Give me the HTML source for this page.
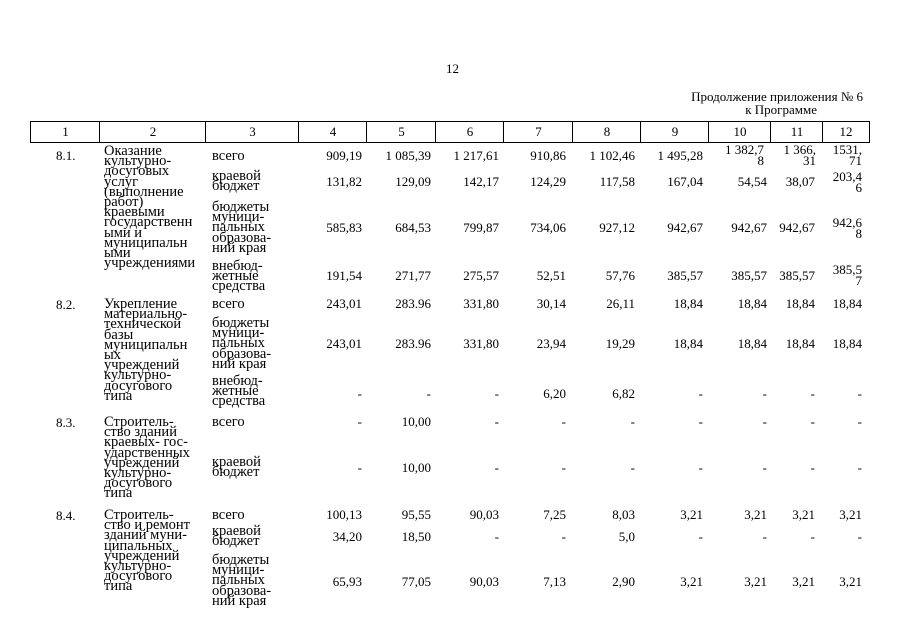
<!DOCTYPE html>
<html><head><meta charset="utf-8"><style>
body{margin:0;width:905px;height:640px;background:#fff;position:relative;overflow:hidden;font-family:"Liberation Serif",serif;color:#000}
.a{position:absolute;white-space:nowrap}
.n{position:absolute;font-size:13px;line-height:14px;text-align:right;width:100px;white-space:nowrap}
.t{position:absolute;font-size:14.5px;line-height:10.2px;white-space:nowrap}
.s{position:absolute;font-size:13px;line-height:10.5px;text-align:right;width:60px;white-space:nowrap}
.h{position:absolute;top:121px;height:20px;border-top:1px solid #000;border-bottom:1px solid #000;border-left:1px solid #000;font-size:13px;line-height:20px;text-align:center}
</style></head><body>
<div class="a" style="left:446px;top:61px;font-size:13px">12</div>
<div class="a" style="right:42px;top:89px;font-size:13px;text-align:right">Продолжение приложения № 6</div>
<div class="a" style="right:88px;top:102px;font-size:13px">к Программе</div>

<div class="h" style="left:30px;width:69px">1</div>
<div class="h" style="left:99px;width:106px">2</div>
<div class="h" style="left:205px;width:93px">3</div>
<div class="h" style="left:298px;width:68px">4</div>
<div class="h" style="left:366px;width:69px">5</div>
<div class="h" style="left:435px;width:68px">6</div>
<div class="h" style="left:503px;width:69px">7</div>
<div class="h" style="left:572px;width:68px">8</div>
<div class="h" style="left:640px;width:68px">9</div>
<div class="h" style="left:708px;width:62px">10</div>
<div class="h" style="left:770px;width:52px">11</div>
<div class="h" style="left:822px;width:46px;border-right:1px solid #000">12</div>

<!-- 8.1 -->
<div class="a" style="left:56px;top:148px;font-size:13px">8.1.</div>
<div class="t" style="left:104px;top:146px">Оказание<br>культурно-<br>досуговых<br>услуг<br>(выполнение<br>работ)<br>краевыми<br>государственн<br>ыми и<br>муниципальн<br>ыми<br>учреждениями</div>
<div class="t" style="left:212px;top:151px">всего</div>
<div class="t" style="left:212px;top:171px">краевой<br>бюджет</div>
<div class="t" style="left:212px;top:202px">бюджеты<br>муници-<br>пальных<br>образова-<br>ний края</div>
<div class="t" style="left:212px;top:261px">внебюд-<br>жетные<br>средства</div>
<div class="n" style="left:262px;top:149px">909,19</div>
<div class="n" style="left:331px;top:149px">1 085,39</div>
<div class="n" style="left:399px;top:149px">1 217,61</div>
<div class="n" style="left:466px;top:149px">910,86</div>
<div class="n" style="left:535px;top:149px">1 102,46</div>
<div class="n" style="left:603px;top:149px">1 495,28</div>
<div class="s" style="left:704px;top:145px">1 382,7<br>8</div>
<div class="s" style="left:756px;top:145px">1 366,<br>31</div>
<div class="s" style="left:802px;top:145px">1531,<br>71</div>

<div class="n" style="left:262px;top:175px">131,82</div>
<div class="n" style="left:331px;top:175px">129,09</div>
<div class="n" style="left:399px;top:175px">142,17</div>
<div class="n" style="left:466px;top:175px">124,29</div>
<div class="n" style="left:535px;top:175px">117,58</div>
<div class="n" style="left:603px;top:175px">167,04</div>
<div class="n" style="left:667px;top:175px">54,54</div>
<div class="n" style="left:715px;top:175px">38,07</div>
<div class="s" style="left:802px;top:172px">203,4<br>6</div>

<div class="n" style="left:262px;top:221px">585,83</div>
<div class="n" style="left:331px;top:221px">684,53</div>
<div class="n" style="left:399px;top:221px">799,87</div>
<div class="n" style="left:466px;top:221px">734,06</div>
<div class="n" style="left:535px;top:221px">927,12</div>
<div class="n" style="left:603px;top:221px">942,67</div>
<div class="n" style="left:667px;top:221px">942,67</div>
<div class="n" style="left:715px;top:221px">942,67</div>
<div class="s" style="left:802px;top:218px">942,6<br>8</div>

<div class="n" style="left:262px;top:269px">191,54</div>
<div class="n" style="left:331px;top:269px">271,77</div>
<div class="n" style="left:399px;top:269px">275,57</div>
<div class="n" style="left:466px;top:269px">52,51</div>
<div class="n" style="left:535px;top:269px">57,76</div>
<div class="n" style="left:603px;top:269px">385,57</div>
<div class="n" style="left:667px;top:269px">385,57</div>
<div class="n" style="left:715px;top:269px">385,57</div>
<div class="s" style="left:802px;top:265px">385,5<br>7</div>

<!-- 8.2 -->
<div class="a" style="left:56px;top:297px;font-size:13px">8.2.</div>
<div class="t" style="left:104px;top:299px">Укрепление<br>материально-<br>технической<br>базы<br>муниципальн<br>ых<br>учреждений<br>культурно-<br>досугового<br>типа</div>
<div class="t" style="left:212px;top:299px">всего</div>
<div class="t" style="left:212px;top:318px">бюджеты<br>муници-<br>пальных<br>образова-<br>ний края</div>
<div class="t" style="left:212px;top:376px">внебюд-<br>жетные<br>средства</div>
<div class="n" style="left:262px;top:297px">243,01</div>
<div class="n" style="left:331px;top:297px">283.96</div>
<div class="n" style="left:399px;top:297px">331,80</div>
<div class="n" style="left:466px;top:297px">30,14</div>
<div class="n" style="left:535px;top:297px">26,11</div>
<div class="n" style="left:603px;top:297px">18,84</div>
<div class="n" style="left:667px;top:297px">18,84</div>
<div class="n" style="left:715px;top:297px">18,84</div>
<div class="n" style="left:762px;top:297px">18,84</div>

<div class="n" style="left:262px;top:337px">243,01</div>
<div class="n" style="left:331px;top:337px">283.96</div>
<div class="n" style="left:399px;top:337px">331,80</div>
<div class="n" style="left:466px;top:337px">23,94</div>
<div class="n" style="left:535px;top:337px">19,29</div>
<div class="n" style="left:603px;top:337px">18,84</div>
<div class="n" style="left:667px;top:337px">18,84</div>
<div class="n" style="left:715px;top:337px">18,84</div>
<div class="n" style="left:762px;top:337px">18,84</div>

<div class="n" style="left:262px;top:387px">-</div>
<div class="n" style="left:331px;top:387px">-</div>
<div class="n" style="left:399px;top:387px">-</div>
<div class="n" style="left:466px;top:387px">6,20</div>
<div class="n" style="left:535px;top:387px">6,82</div>
<div class="n" style="left:603px;top:387px">-</div>
<div class="n" style="left:667px;top:387px">-</div>
<div class="n" style="left:715px;top:387px">-</div>
<div class="n" style="left:762px;top:387px">-</div>

<!-- 8.3 -->
<div class="a" style="left:56px;top:415px;font-size:13px">8.3.</div>
<div class="t" style="left:104px;top:417px">Строитель-<br>ство зданий<br>краевых- гос-<br>ударственных<br>учреждений<br>культурно-<br>досугового<br>типа</div>
<div class="t" style="left:212px;top:417px">всего</div>
<div class="t" style="left:212px;top:457px">краевой<br>бюджет</div>
<div class="n" style="left:262px;top:415px">-</div>
<div class="n" style="left:331px;top:415px">10,00</div>
<div class="n" style="left:399px;top:415px">-</div>
<div class="n" style="left:466px;top:415px">-</div>
<div class="n" style="left:535px;top:415px">-</div>
<div class="n" style="left:603px;top:415px">-</div>
<div class="n" style="left:667px;top:415px">-</div>
<div class="n" style="left:715px;top:415px">-</div>
<div class="n" style="left:762px;top:415px">-</div>
<div class="n" style="left:262px;top:461px">-</div>
<div class="n" style="left:331px;top:461px">10,00</div>
<div class="n" style="left:399px;top:461px">-</div>
<div class="n" style="left:466px;top:461px">-</div>
<div class="n" style="left:535px;top:461px">-</div>
<div class="n" style="left:603px;top:461px">-</div>
<div class="n" style="left:667px;top:461px">-</div>
<div class="n" style="left:715px;top:461px">-</div>
<div class="n" style="left:762px;top:461px">-</div>

<!-- 8.4 -->
<div class="a" style="left:56px;top:508px;font-size:13px">8.4.</div>
<div class="t" style="left:104px;top:510px">Строитель-<br>ство и ремонт<br>зданий муни-<br>ципальных<br>учреждений<br>культурно-<br>досугового<br>типа</div>
<div class="t" style="left:212px;top:510px">всего</div>
<div class="t" style="left:212px;top:526px">краевой<br>бюджет</div>
<div class="t" style="left:212px;top:555px">бюджеты<br>муници-<br>пальных<br>образова-<br>ний края</div>
<div class="n" style="left:262px;top:508px">100,13</div>
<div class="n" style="left:331px;top:508px">95,55</div>
<div class="n" style="left:399px;top:508px">90,03</div>
<div class="n" style="left:466px;top:508px">7,25</div>
<div class="n" style="left:535px;top:508px">8,03</div>
<div class="n" style="left:603px;top:508px">3,21</div>
<div class="n" style="left:667px;top:508px">3,21</div>
<div class="n" style="left:715px;top:508px">3,21</div>
<div class="n" style="left:762px;top:508px">3,21</div>

<div class="n" style="left:262px;top:530px">34,20</div>
<div class="n" style="left:331px;top:530px">18,50</div>
<div class="n" style="left:399px;top:530px">-</div>
<div class="n" style="left:466px;top:530px">-</div>
<div class="n" style="left:535px;top:530px">5,0</div>
<div class="n" style="left:603px;top:530px">-</div>
<div class="n" style="left:667px;top:530px">-</div>
<div class="n" style="left:715px;top:530px">-</div>
<div class="n" style="left:762px;top:530px">-</div>

<div class="n" style="left:262px;top:575px">65,93</div>
<div class="n" style="left:331px;top:575px">77,05</div>
<div class="n" style="left:399px;top:575px">90,03</div>
<div class="n" style="left:466px;top:575px">7,13</div>
<div class="n" style="left:535px;top:575px">2,90</div>
<div class="n" style="left:603px;top:575px">3,21</div>
<div class="n" style="left:667px;top:575px">3,21</div>
<div class="n" style="left:715px;top:575px">3,21</div>
<div class="n" style="left:762px;top:575px">3,21</div>
</body></html>
